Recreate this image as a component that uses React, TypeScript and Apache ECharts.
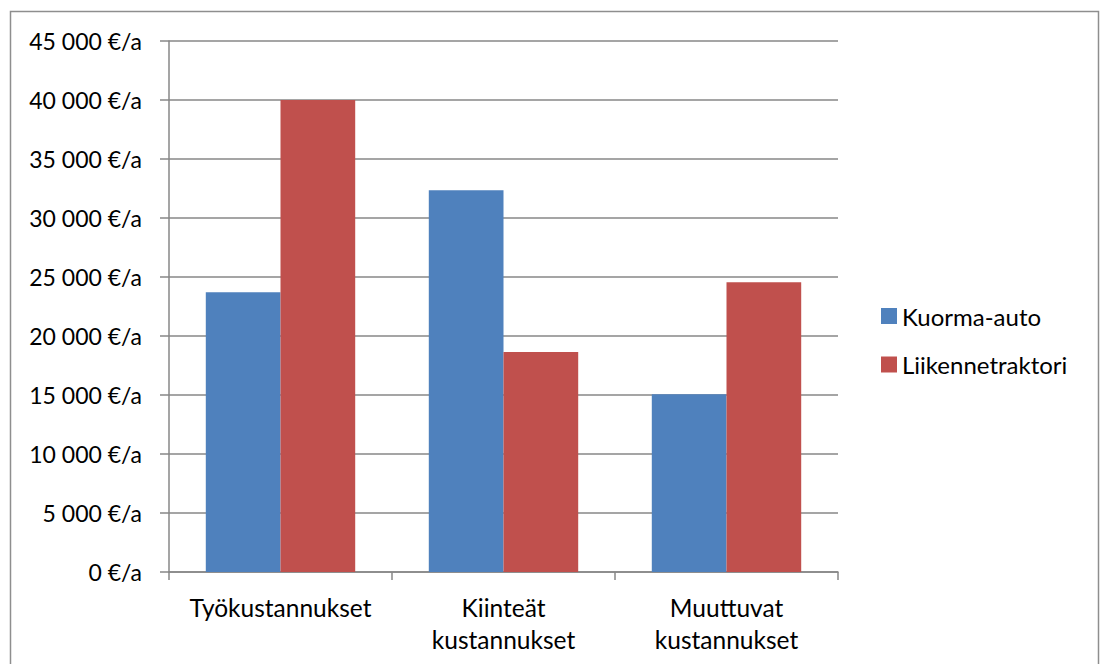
import React, { useEffect, useRef } from "react";
import * as echarts from "echarts";

const categories = ["Työkustannukset", "Kiinteät\nkustannukset", "Muuttuvat\nkustannukset"];
const seriesNames = ["Kuorma-auto", "Liikennetraktori"];
const kuormaAuto = [23700, 32350, 15070];
const liikennetraktori = [40000, 18650, 24550];
const yMin = 0;
const yMax = 45000;
const yStep = 5000;

const FONT = "Lato, 'Open Sans', sans-serif";
const AXIS_GREY = "#878787";
const COLORS = ["#4f81bd", "#c0504d"];

const formatEuro = (v: number) =>
  String(v).replace(/\B(?=(\d{3})+(?!\d))/g, " ") + " €/a";

export default function App() {
  const ref = useRef<HTMLDivElement>(null);

  useEffect(() => {
    document.body.style.margin = "0";
    if (!ref.current) return;
    const chart = echarts.init(ref.current, null, { renderer: "svg" });

    // one legend block per series, stacked vertically on the right
    const legendTops = [299, 347.5];
    const legends = seriesNames.map((name, i) => ({
      orient: "vertical",
      left: 876,
      top: legendTops[i],
      itemWidth: 16,
      itemHeight: 16,
      icon: "rect",
      data: [name],
      textStyle: { fontFamily: FONT, fontSize: 24, color: "#000" },
    }));

    chart.setOption({
      animation: false,
      backgroundColor: "#ffffff",
      textStyle: { fontFamily: FONT },
      graphic: [
        {
          type: "rect",
          shape: { x: 10.5, y: 11.5, width: 1088, height: 700 },
          style: { fill: "none", stroke: "#8e8e8e", lineWidth: 1.5 },
          silent: true,
        },
      ],
      grid: { left: 169, right: 262, top: 41, bottom: 92, containLabel: false },
      legend: legends,
      xAxis: {
        type: "category",
        data: categories,
        axisLine: { show: true, lineStyle: { color: AXIS_GREY, width: 1.5 } },
        axisTick: { show: true, length: 8, alignWithLabel: false, lineStyle: { color: AXIS_GREY, width: 1.5 } },
        axisLabel: {
          fontFamily: FONT,
          fontSize: 24.5,
          color: "#000",
          lineHeight: 32,
          margin: 19,
          interval: 0,
        },
      },
      yAxis: {
        type: "value",
        min: yMin,
        max: yMax,
        interval: yStep,
        axisLine: { show: true, lineStyle: { color: AXIS_GREY, width: 1.5 } },
        axisTick: { show: true, length: 9, lineStyle: { color: AXIS_GREY, width: 1.5 } },
        splitLine: { show: true, lineStyle: { color: AXIS_GREY, width: 1.5 } },
        axisLabel: {
          fontFamily: FONT,
          fontSize: 23,
          color: "#000",
          margin: 27,
          formatter: (v: number) => formatEuro(v),
        },
      },
      series: [
        {
          name: seriesNames[0],
          type: "bar",
          data: kuormaAuto,
          itemStyle: { color: COLORS[0] },
          barGap: "0%",
          barCategoryGap: "33%",
        },
        {
          name: seriesNames[1],
          type: "bar",
          data: liikennetraktori,
          itemStyle: { color: COLORS[1] },
          barGap: "0%",
          barCategoryGap: "33%",
        },
      ],
    });
    return () => chart.dispose();
  }, []);

  return <div ref={ref} style={{ width: 1100, height: 664 }} />;
}
